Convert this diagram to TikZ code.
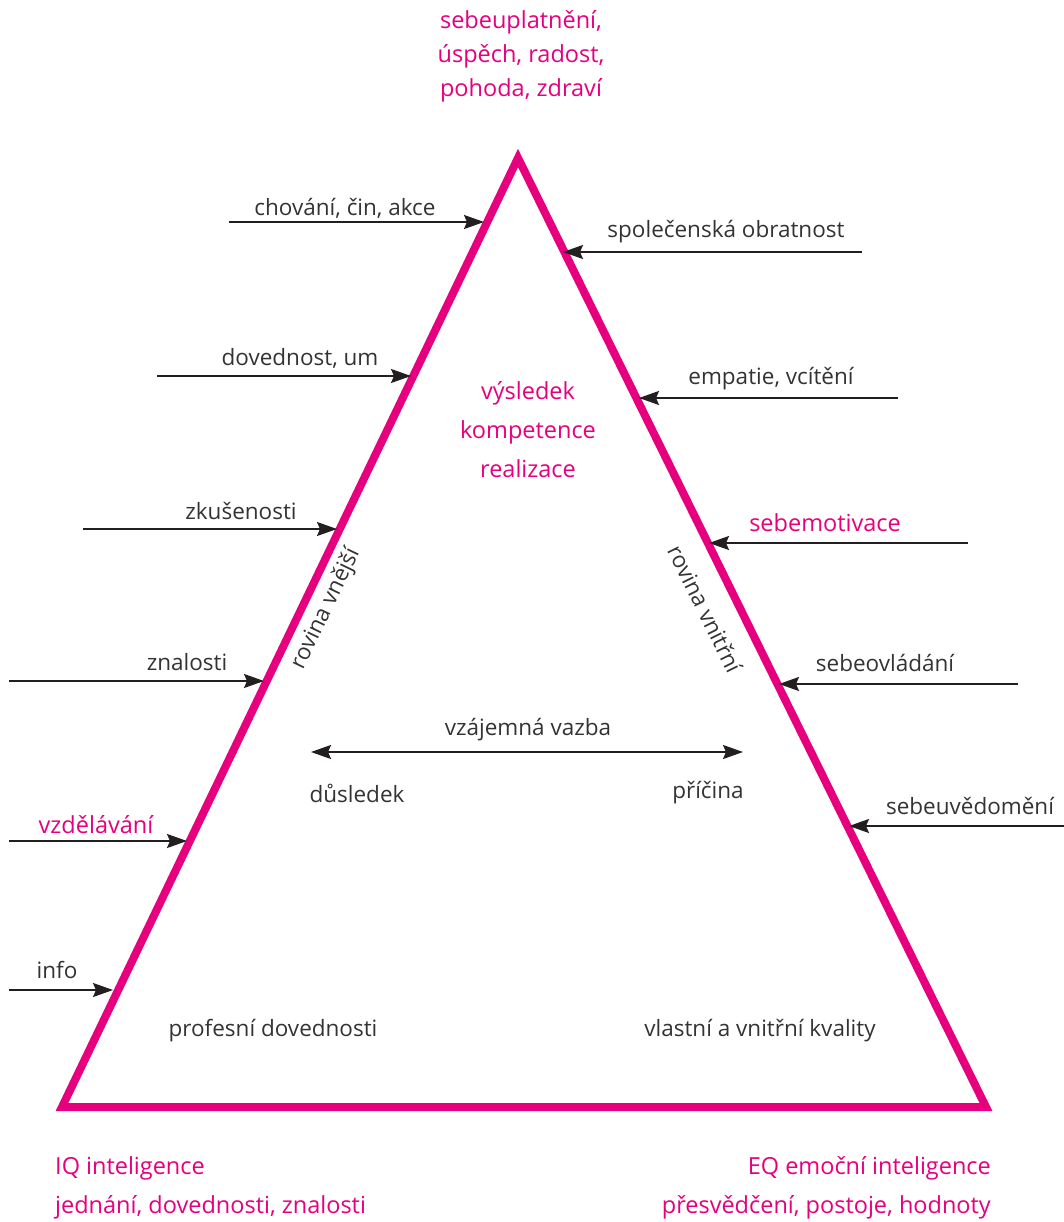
\documentclass[tikz,border=0pt]{standalone}
\usepackage{fontspec}
\setmainfont{Open Sans}
\usetikzlibrary{arrows.meta}
\definecolor{mag}{HTML}{E6007E}
\definecolor{txt}{HTML}{333333}
\definecolor{arr}{HTML}{231F20}
\begin{document}
\begin{tikzpicture}[x=1pt,y=-1pt,
  gray/.style={text=txt,font=\fontsize{22.5}{26}\selectfont,inner sep=0pt},
  magt/.style={text=mag,font=\fontsize{23.5}{34}\selectfont,inner sep=0pt},
  inarrow/.style={draw=arr,line width=1.8pt,-{Stealth[length=20pt,width=14pt,inset=3pt]}}]
\useasboundingbox (0,0) rectangle (1064,1222);
% triangle
\coordinate (A) at (518,158);
\coordinate (B) at (62,1107);
\coordinate (C) at (986,1107);
\draw[mag,line width=8pt,line join=miter] (A) -- (B) -- (C) -- cycle;
% top text
\node[magt,align=center] (top) at (521,56) {sebeuplatnění,\\úspěch, radost,\\pohoda, zdraví};
\node[magt,align=center,font=\fontsize{23.5}{39}\selectfont] (res) at (528,430) {výsledek\\kompetence\\realizace};
% left arrows
\coordinate (l1s) at (229,222); \coordinate (l1e) at (484,222);
\coordinate (l2s) at (157,376); \coordinate (l2e) at (411,376);
\coordinate (l3s) at (83,529);  \coordinate (l3e) at (337,529);
\coordinate (l4s) at (9,681);   \coordinate (l4e) at (264,681);
\coordinate (l5s) at (9,841);   \coordinate (l5e) at (187,841);
\coordinate (l6s) at (9,990);   \coordinate (l6e) at (113,990);
\draw[inarrow] (l1s) -- (l1e);
\draw[inarrow] (l2s) -- (l2e);
\draw[inarrow] (l3s) -- (l3e);
\draw[inarrow] (l4s) -- (l4e);
\draw[inarrow] (l5s) -- (l5e);
\draw[inarrow] (l6s) -- (l6e);
\node[gray] (t1) at (345,208) {chování, čin, akce};
\node[gray] (t2) at (300,358) {dovednost, um};
\node[gray] (t3) at (241,511) {zkušenosti};
\node[gray] (t4) at (187,662) {znalosti};
\node[magt] (t5) at (96,825) {vzdělávání};
\node[gray] (t6) at (57,970) {info};
% right arrows
\coordinate (r1s) at (862,252);  \coordinate (r1e) at (563,252);
\coordinate (r2s) at (898,398);  \coordinate (r2e) at (639,398);
\coordinate (r3s) at (968,543);  \coordinate (r3e) at (709,543);
\coordinate (r4s) at (1018,684); \coordinate (r4e) at (779,684);
\coordinate (r5s) at (1064,826); \coordinate (r5e) at (849,826);
\draw[inarrow] (r1s) -- (r1e);
\draw[inarrow] (r2s) -- (r2e);
\draw[inarrow] (r3s) -- (r3e);
\draw[inarrow] (r4s) -- (r4e);
\draw[inarrow] (r5s) -- (r5e);
\node[gray] (u1) at (726,232) {společenská obratnost};
\node[gray] (u2) at (771,379) {empatie, vcítění};
\node[magt] (u3) at (825,523) {sebemotivace};
\node[gray] (u4) at (885,663) {sebeovládání};
\node[gray] (u5) at (970,806) {sebeuvědomění};
% side labels
\node[gray,rotate=64.3] (rv) at (326,609) {rovina vnější};
\node[gray,rotate=-63.7] (ri) at (705,609) {rovina vnitřní};
% centre
\node[gray] (vz) at (528,730) {vzájemná vazba};
\node[gray] (ds) at (357,793) {důsledek};
\node[gray] (pr) at (708,793) {příčina};
\coordinate (vl) at (311,752); \coordinate (vr) at (743,752);
\draw[draw=arr,line width=1.8pt,{Stealth[length=20pt,width=14pt,inset=3pt]}-{Stealth[length=20pt,width=14pt,inset=3pt]}] (vl) -- (vr);
\node[gray] (pd) at (273,1031) {profesní dovednosti};
\node[gray] (vk) at (760,1031) {vlastní a vnitřní kvality};
% bottom
\node[magt,anchor=west] (iq1) at (55,1168) {IQ inteligence};
\node[magt,anchor=west] (iq2) at (55,1207) {jednání, dovednosti, znalosti};
\node[magt,anchor=east] (eq1) at (991,1168) {EQ emoční inteligence};
\node[magt,anchor=east] (eq2) at (991,1207) {přesvědčení, postoje, hodnoty};
\end{tikzpicture}
\end{document}
